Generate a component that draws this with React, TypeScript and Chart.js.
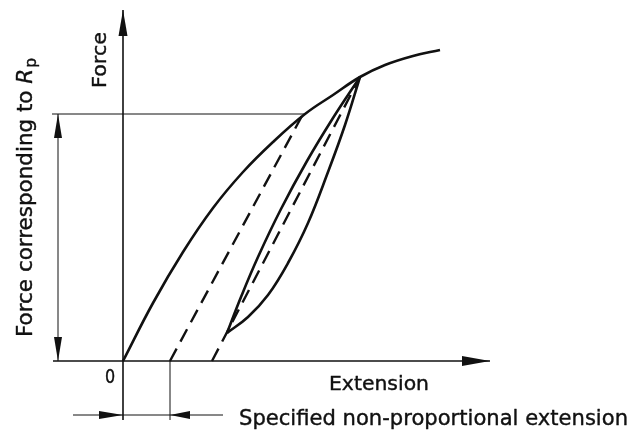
import { useEffect, useRef } from "react";
import { Chart, registerables } from "chart.js";

Chart.register(...registerables);

// Data units: extension (origin 0) and force (origin 0), arbitrary units
const loadingExtension = [0, 30, 60, 90, 120, 150, 182, 210, 237, 262, 290, 317];
const loadingForce = [0, 58, 109, 153, 189, 219, 247, 266, 284, 296, 305, 311];

const offsetLineExtension = [47, 180];
const offsetLineForce = [0, 247];

const unloadLineExtension = [89, 237];
const unloadLineForce = [0, 284];

const loopUpperExtension = [104, 118, 135, 158, 184, 210, 237];
const loopUpperForce = [28, 64, 104, 152, 200, 243, 284];

const loopLowerExtension = [104, 125, 145, 165, 185, 205, 222, 237];
const loopLowerForce = [28, 44, 66, 98, 138, 189, 236, 284];

const rpForce = 247;
const rpLineExtension = [-71, 182];
const specifiedExtension = 47;

const xAxisExtent = [-70, 367];
const yAxisExtent = [-59, 351];
const dimensionForce = -54;
const dimensionExtent = [-50, 100];
const rpDimensionExtension = -65;

const xRange = [-123, 513];
const yRange = [-72, 361];

const zip = (xs: number[], ys: number[]) => xs.map((x, i) => ({ x, y: ys[i] }));

const INK = "#111";

function arrowHead(
  ctx: CanvasRenderingContext2D,
  tx: number,
  ty: number,
  dx: number,
  dy: number,
  len: number,
  halfW: number
) {
  const m = Math.hypot(dx, dy);
  const ux = dx / m;
  const uy = dy / m;
  const bx = tx - ux * len;
  const by = ty - uy * len;
  ctx.beginPath();
  ctx.moveTo(tx, ty);
  ctx.lineTo(bx - uy * halfW, by + ux * halfW);
  ctx.lineTo(bx + uy * halfW, by - ux * halfW);
  ctx.closePath();
  ctx.fill();
}

function fitText(
  ctx: CanvasRenderingContext2D,
  text: string,
  size: number,
  width: number
) {
  ctx.font = `${size}px "DejaVu Sans"`;
  const w = ctx.measureText(text).width;
  return width / w;
}

function inkText(ctx: CanvasRenderingContext2D, t: string, x: number, y: number) {
  ctx.fillText(t, x, y);
  ctx.strokeText(t, x, y);
}

const overlayPlugin = {
  id: "overlay",
  afterDatasetsDraw(chart: any) {
    const ctx: CanvasRenderingContext2D = chart.ctx;
    const xs = chart.scales.x;
    const ys = chart.scales.y;
    const px = (v: number) => xs.getPixelForValue(v);
    const py = (v: number) => ys.getPixelForValue(v);
    ctx.save();
    ctx.fillStyle = INK;
    ctx.strokeStyle = INK;

    // axis arrowheads
    arrowHead(ctx, px(xAxisExtent[1]), py(0), 1, 0, 28, 5);
    arrowHead(ctx, px(0), py(yAxisExtent[1]), 0, -1, 26, 4.5);

    // Rp dimension arrows
    arrowHead(ctx, px(rpDimensionExtension), py(rpForce), 0, -1, 24, 4);
    arrowHead(ctx, px(rpDimensionExtension), py(0), 0, 1, 24, 4);

    // specified extension dimension arrows (pointing inward from outside)
    arrowHead(ctx, px(0), py(dimensionForce), 1, 0, 24, 4);
    arrowHead(ctx, px(specifiedExtension), py(dimensionForce), -1, 0, 20, 4);

    // Texts
    ctx.textBaseline = "alphabetic";
    ctx.textAlign = "left";
    ctx.lineWidth = 0.4;
    ctx.lineJoin = "round";

    // "0"
    {
      ctx.save();
      ctx.font = `20px "DejaVu Sans"`;
      const sx = 0.8;
      const w = ctx.measureText("0").width * sx;
      ctx.translate(110 - w / 2, 383);
      ctx.scale(sx, 1);
      inkText(ctx, "0", 0, 0);
      ctx.restore();
    }
    // "Extension"
    {
      ctx.save();
      const t = "Extension";
      const sx = fitText(ctx, t, 19, 100);
      ctx.translate(329, 390);
      ctx.scale(sx, 1);
      inkText(ctx, t, 0, 0);
      ctx.restore();
    }
    // bottom label
    {
      ctx.save();
      const t = "Specified non-proportional extension";
      const sx = fitText(ctx, t, 21, 389);
      ctx.translate(239, 425);
      ctx.scale(sx, 1);
      inkText(ctx, t, 0, 0);
      ctx.restore();
    }
    // "Force" (rotated)
    {
      ctx.save();
      const t = "Force";
      const sx = fitText(ctx, t, 20, 56);
      ctx.translate(106, 88);
      ctx.rotate(-Math.PI / 2);
      ctx.scale(sx, 1);
      inkText(ctx, t, 0, 0);
      ctx.restore();
    }
    // "Force corresponding to Rp" (rotated)
    {
      ctx.save();
      const size = 22;
      const main = "Force corresponding to ";
      ctx.font = `${size}px "DejaVu Sans"`;
      const w1 = ctx.measureText(main).width;
      ctx.font = `italic ${size}px "DejaVu Sans"`;
      const w2 = ctx.measureText("R").width;
      ctx.font = `${size * 0.72}px "DejaVu Sans"`;
      const w3 = ctx.measureText("p").width;
      const total = w1 + w2 + w3 + 1;
      const sx = 279 / total;
      ctx.translate(32, 337);
      ctx.rotate(-Math.PI / 2);
      ctx.scale(sx, 1);
      ctx.font = `${size}px "DejaVu Sans"`;
      inkText(ctx, main, 0, 0);
      ctx.font = `italic ${size}px "DejaVu Sans"`;
      inkText(ctx, "R", w1, 0);
      ctx.font = `${size * 0.72}px "DejaVu Sans"`;
      inkText(ctx, "p", w1 + w2 + 1, 4);
      ctx.restore();
    }
    ctx.restore();
  },
};

export default function App() {
  const ref = useRef<HTMLCanvasElement | null>(null);

  useEffect(() => {
    if (!ref.current) return;
    const thin = { borderColor: INK, borderWidth: 1, pointRadius: 0, showLine: true, fill: false };
    const axis = { borderColor: INK, borderWidth: 1.6, pointRadius: 0, showLine: true, fill: false };
    const curve = {
      borderColor: INK,
      borderWidth: 2.6,
      pointRadius: 0,
      showLine: true,
      fill: false,
      tension: 0.4,
    };
    const dashed = { borderColor: INK, borderWidth: 2.4, pointRadius: 0, showLine: true, fill: false, borderDash: [14, 8] };

    const chart = new Chart(ref.current, {
      type: "scatter",
      data: {
        datasets: [
          { label: "x axis", data: zip(xAxisExtent, [0, 0]), ...axis },
          { label: "y axis", data: zip([0, 0], yAxisExtent), ...axis },
          { label: "Rp level", data: zip(rpLineExtension, [rpForce, rpForce]), ...thin },
          { label: "Rp dimension", data: zip([rpDimensionExtension, rpDimensionExtension], [0, rpForce]), ...thin },
          { label: "extension line", data: zip([specifiedExtension, specifiedExtension], [yAxisExtent[0], 0]), ...thin },
          { label: "dimension line", data: zip(dimensionExtent, [dimensionForce, dimensionForce]), ...thin },
          { label: "loading", data: zip(loadingExtension, loadingForce), ...curve },
          { label: "offset line", data: zip(offsetLineExtension, offsetLineForce), ...dashed },
          { label: "unload line", data: zip(unloadLineExtension, unloadLineForce), ...dashed },
          { label: "loop upper", data: zip(loopUpperExtension, loopUpperForce), ...curve },
          { label: "loop lower", data: zip(loopLowerExtension, loopLowerForce), ...curve },
        ] as any,
      },
      options: {
        animation: false,
        responsive: true,
        maintainAspectRatio: false,
        layout: { padding: 0 },
        plugins: { legend: { display: false }, tooltip: { enabled: false } },
        scales: {
          x: { type: "linear", min: xRange[0], max: xRange[1], display: false },
          y: { type: "linear", min: yRange[0], max: yRange[1], display: false },
        },
      },
      plugins: [overlayPlugin],
    });
    return () => chart.destroy();
  }, []);

  return (
    <div style={{ position: "fixed", left: 0, top: 0, width: 636, height: 433, background: "#fff" }}>
      <canvas ref={ref} />
    </div>
  );
}
